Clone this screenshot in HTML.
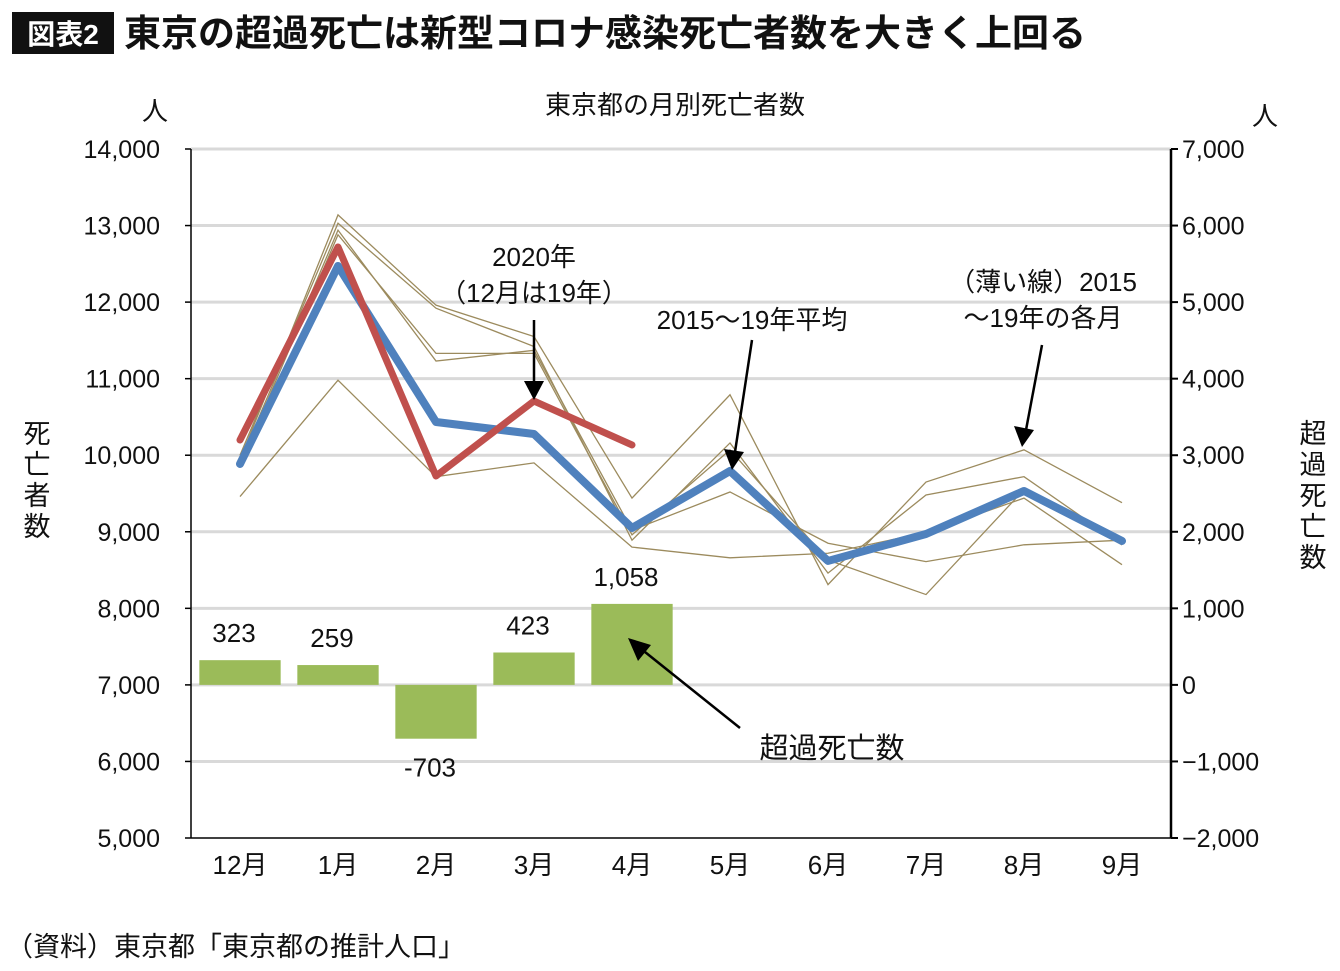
<!DOCTYPE html>
<html><head><meta charset="utf-8">
<style>
body{margin:0;background:#fff;}
svg{display:block;font-family:"Liberation Sans","Noto Sans CJK JP",sans-serif;}
</style></head>
<body>
<svg id="c" width="1340" height="971" viewBox="0 0 1340 971">
<rect x="12" y="12" width="102" height="42" fill="#111"/>
<text x="63" y="44" text-anchor="middle" font-size="28" font-weight="bold" fill="#fff">図表2</text>
<text x="124" y="46" font-size="37" font-weight="bold" fill="#111" textLength="962" lengthAdjust="spacingAndGlyphs">東京の超過死亡は新型コロナ感染死亡者数を大きく上回る</text>
<text x="675" y="114" text-anchor="middle" font-size="26" fill="#111">東京都の月別死亡者数</text>
<text x="155" y="120" text-anchor="middle" font-size="26" fill="#111">人</text>
<text x="1265" y="125" text-anchor="middle" font-size="26" fill="#111">人</text>
<g font-size="27" fill="#111" text-anchor="middle">
<text x="37" y="443">死</text><text x="37" y="474">亡</text><text x="37" y="505">者</text><text x="37" y="536">数</text>
</g>
<g font-size="27" fill="#111" text-anchor="middle">
<text x="1313" y="443">超</text><text x="1313" y="474">過</text><text x="1313" y="505">死</text><text x="1313" y="536">亡</text><text x="1313" y="567">数</text>
</g>
<g id="grid"></g><g id="bars"></g><g id="thin"></g><g id="main"></g><g id="axes"></g><g id="labels"></g>
<g stroke="#000" stroke-width="2.5">
<line x1="534" y1="320" x2="534" y2="385"/>
<line x1="752" y1="340" x2="735" y2="452"/>
<line x1="1042" y1="345" x2="1026" y2="430"/>
<line x1="740" y1="728" x2="645" y2="652"/>
</g>
<g fill="#000">
<polygon points="534,400 524,381 544,381"/>
<polygon points="732,470 724,449 744,452"/>
<polygon points="1022,447 1014,426 1034,430"/>
<polygon points="628,638 651,645 638,661"/>
</g>
<g font-size="26" fill="#111" text-anchor="middle">
<text x="534" y="266">2020年</text>
<text x="534" y="302">（12月は19年）</text>
<text x="752" y="329">2015～19年平均</text>
<text x="1043" y="291">（薄い線）2015</text>
<text x="1043" y="327">～19年の各月</text>
<text x="832" y="758" font-size="29">超過死亡数</text>
</g>
<text x="6" y="956" font-size="27" fill="#111">（資料）東京都「東京都の推計人口」</text>
</svg>
<script>
const categories=["12月","1月","2月","3月","4月","5月","6月","7月","8月","9月"];
const avg=[9886,12472,10434,10277,9050,9794,8619,8971,9533,8880];
const y2020=[10199,12720,9729,10708,10134];
const yr2015=[9940,13140,11960,11550,9440,10790,8310,9650,10070,9380];
const yr2016=[10000,13030,11920,11420,8890,10160,8460,9480,9720,8830];
const yr2017=[9460,10980,9720,9900,8800,8660,8720,8990,9440,8570];
const yr2018=[9910,12940,11230,11370,9020,9520,8850,8610,8830,8890];
const yr2019=[9870,12880,11330,11330,8960,10070,8630,8180,9550,8830];
const excess=[323,259,-703,423,1058];
const excessLabels=["323","259","-703","423","1,058"];
const leftTicks=[5000,6000,7000,8000,9000,10000,11000,12000,13000,14000];
const rightTicks=[-2000,-1000,0,1000,2000,3000,4000,5000,6000,7000];
const rightTickLabels=["−2,000","−1,000","0","1,000","2,000","3,000","4,000","5,000","6,000","7,000"];

const X0=191,X1=1171,T=149,B=838;
const bw=(X1-X0)/categories.length;
const xc=i=>X0+bw*(i+0.5);
const yL=v=>T+(14000-v)/9000*(B-T);
const yR=v=>T+(7000-v)/9000*(B-T);
const NS="http://www.w3.org/2000/svg";
function mk(tag,attrs,parent,txt){const e=document.createElementNS(NS,tag);for(const k in attrs)e.setAttribute(k,attrs[k]);if(txt!==undefined)e.textContent=txt;document.getElementById(parent).appendChild(e);return e;}
const fmt=v=>v.toLocaleString("en-US");

leftTicks.forEach((v,i)=>{
  if(v>5000){const g=mk("line",{x1:X0,x2:X1,y1:yL(v),y2:yL(v),stroke:"#d9d9d9","stroke-width":3},"grid");
  
  }
  const t=mk("text",{x:160,y:yL(v)+9,"text-anchor":"end","font-size":25,fill:"#111"},"labels",fmt(v));
  
  
  const tk=mk("line",{x1:X0-6,x2:X0,y1:yL(v),y2:yL(v),stroke:"#000","stroke-width":1.5},"axes");
  
  
});
rightTicks.forEach((v,i)=>{
  const t=mk("text",{x:1182,y:yR(v)+9,"font-size":25,fill:"#111"},"labels",rightTickLabels[i]);
  
  
  const tk=mk("line",{x1:X1,x2:X1+7,y1:yR(v),y2:yR(v),stroke:"#000","stroke-width":2},"axes");
  
  
});
let a=mk("line",{x1:X0,x2:X0,y1:T,y2:B,stroke:"#000","stroke-width":1.5},"axes");


a=mk("line",{x1:X1,x2:X1,y1:T,y2:B,stroke:"#000","stroke-width":2.5},"axes");


a=mk("line",{x1:X0,x2:X1,y1:B,y2:B,stroke:"#000","stroke-width":1.5},"axes");


categories.forEach((c,i)=>{
  const t=mk("text",{x:xc(i),y:874,"text-anchor":"middle","font-size":26,fill:"#111"},"labels",c);
  
  
});
excess.forEach((v,i)=>{
  const w=bw*0.83;
  const y0=yR(0),y1=yR(v);
  const r=mk("rect",{x:xc(i)-w/2,y:Math.min(y0,y1),width:w,height:Math.abs(y1-y0),fill:"#9bbb59"},"bars");
  
  
  const ly=v>=0?y1-18:y1+38;
  const t=mk("text",{x:xc(i)-6,y:ly,"text-anchor":"middle","font-size":26,fill:"#111"},"labels",excessLabels[i]);
  
  
});
[yr2015,yr2016,yr2017,yr2018,yr2019].forEach((s,k)=>{
  const p=mk("polyline",{points:s.map((v,i)=>xc(i)+","+yL(v)).join(" "),fill:"none",stroke:"#9c8b5e","stroke-width":1.3},"thin");
  
  
});
let p=mk("polyline",{points:avg.map((v,i)=>xc(i)+","+yL(v)).join(" "),fill:"none",stroke:"#4f81bd","stroke-width":8,"stroke-linejoin":"round","stroke-linecap":"round"},"main");


p=mk("polyline",{points:y2020.map((v,i)=>xc(i)+","+yL(v)).join(" "),fill:"none",stroke:"#c0504d","stroke-width":7,"stroke-linejoin":"round","stroke-linecap":"round"},"main");


</script>
</body></html>
